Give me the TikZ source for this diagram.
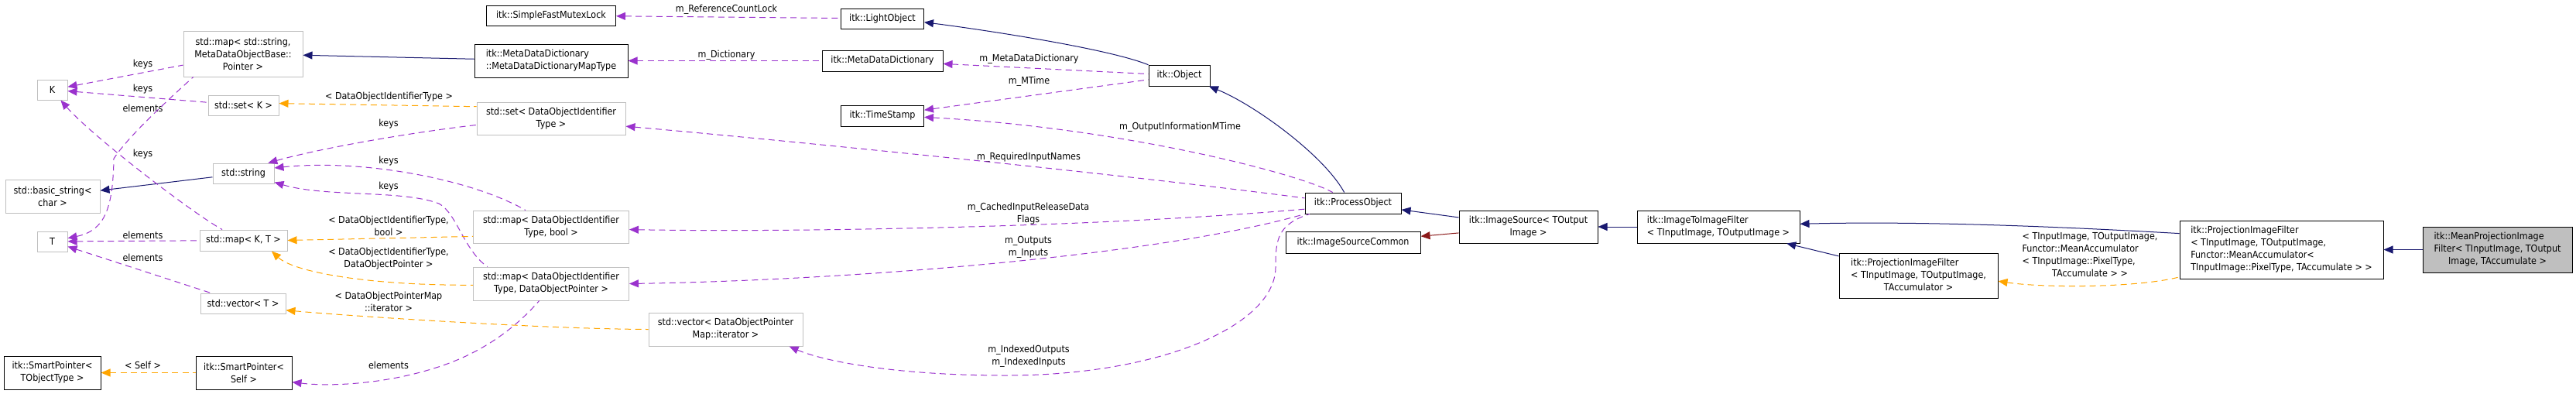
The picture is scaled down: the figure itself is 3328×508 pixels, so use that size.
\documentclass[tikz,border=0pt]{standalone}
\usepackage{fontspec}
\setmainfont{DejaVu Sans}[FakeStretch=0.9]
\usepackage{xcolor}
\usetikzlibrary{arrows.meta}

\definecolor{orchid3}{HTML}{9A32CD}
\definecolor{tmplorange}{HTML}{FFA500}
\definecolor{midnight}{HTML}{191970}
\definecolor{firebrick}{HTML}{8B1A1A}
\definecolor{boxgray}{HTML}{BFBFBF}

\begin{document}
\begin{tikzpicture}[
  x=0.75pt, y=-0.75pt,
  every node/.style={font=\fontsize{9.3}{12}\selectfont},
  cls/.style={rectangle, draw=black, line width=0.75pt, fill=white,
              inner sep=0pt, align=center},
  ext/.style={cls, draw=boxgray},
  mainbox/.style={cls, fill=boxgray},
  lbl/.style={inner sep=0pt, align=center},
  link/.style={line width=0.75pt, {Triangle[length=9pt,width=7.5pt]}-},
  member/.style={link, draw=orchid3, dash pattern=on 6pt off 4pt},
  tmpl/.style={link, draw=tmplorange, dash pattern=on 6pt off 4pt},
  inherit/.style={link, draw=midnight},
  prot/.style={link, draw=firebrick},
]
  \useasboundingbox (0,0) rectangle (3328,508);

  % left column: std containers and template parameters
  \node[ext, minimum width=115.5pt, minimum height=44.25pt] (mapstr) at (314,69.5) {std::map< std::string,\\ MetaDataObjectBase::\\ Pointer >};
  \node[ext, minimum width=29.25pt, minimum height=19.5pt] (K) at (67.5,116) {K};
  \node[ext, minimum width=68.25pt, minimum height=19.5pt] (setK) at (314.5,136) {std::set< K >};
  \node[ext, minimum width=59.25pt, minimum height=19.5pt] (string) at (314.5,224) {std::string};
  \node[ext, minimum width=91.5pt, minimum height=32.25pt] (basicstr) at (68,253.5) {std::basic\_string<\\ char >};
  \node[ext, minimum width=29.25pt, minimum height=19.5pt] (T) at (67.5,312) {T};
  \node[ext, minimum width=84.75pt, minimum height=20.25pt] (mapKT) at (314.5,310.5) {std::map< K, T >};
  \node[ext, minimum width=82.5pt, minimum height=19.5pt] (vecT) at (314,392) {std::vector< T >};
  \node[cls, minimum width=93.75pt, minimum height=32.25pt] (spTO) at (67.5,481.5) {itk::SmartPointer<\\ TObjectType >};
  \node[cls, minimum width=93pt, minimum height=32.25pt] (spSelf) at (315,481.5) {itk::SmartPointer<\\ Self >};

  \node[cls, minimum width=125.25pt, minimum height=19.5pt] (mutex) at (712,20) {itk::SimpleFastMutexLock};
  \node[cls, minimum width=148.5pt, minimum height=32.25pt, align=left] (maptype) at (712,78.5) {itk::MetaDataDictionary\\ ::MetaDataDictionaryMapType};
  \node[ext, minimum width=144pt, minimum height=31.5pt] (setid) at (712,153) {std::set< DataObjectIdentifier\\ Type >};
  \node[ext, minimum width=150.75pt, minimum height=31.5pt] (mapbool) at (712,293) {std::map< DataObjectIdentifier\\ Type, bool >};
  \node[ext, minimum width=150.75pt, minimum height=32.25pt] (mapdop) at (712,366.5) {std::map< DataObjectIdentifier\\ Type, DataObjectPointer >};
  \node[ext, minimum width=149.25pt, minimum height=32.25pt] (vecit) at (937.5,425.5) {std::vector< DataObjectPointer\\ Map::iterator >};

  % itk classes
  \node[cls, minimum width=80.25pt, minimum height=19.5pt] (light) at (1140,24) {itk::LightObject};
  \node[cls, minimum width=117pt, minimum height=20.25pt] (dict) at (1140,78.5) {itk::MetaDataDictionary};
  \node[cls, minimum width=80.25pt, minimum height=20.25pt] (stamp) at (1140,149.5) {itk::TimeStamp};
  \node[cls, minimum width=59.25pt, minimum height=20.25pt] (object) at (1523.5,97.5) {itk::Object};
  \node[cls, minimum width=93pt, minimum height=20.25pt] (process) at (1748,262.5) {itk::ProcessObject};
  \node[cls, minimum width=130.5pt, minimum height=21pt] (common) at (1748,313) {itk::ImageSourceCommon};
  \node[cls, minimum width=134.25pt, minimum height=31.5pt] (source) at (1974.5,293) {itk::ImageSource< TOutput\\ Image >};
  \node[cls, minimum width=157.5pt, minimum height=31.5pt, align=left] (i2i) at (2220,293) {itk::ImageToImageFilter\\ < TInputImage, TOutputImage >};
  \node[cls, minimum width=153.75pt, minimum height=43.5pt] (projacc) at (2478.5,356) {\begin{tabular}{@{}l@{}}itk::ProjectionImageFilter\\ < TInputImage, TOutputImage,\\ \multicolumn{1}{@{}c@{}}{TAccumulator >}\end{tabular}};
  \node[cls, minimum width=197.25pt, minimum height=56.25pt, align=left] (projmean) at (2947.5,322.5) {itk::ProjectionImageFilter\\ < TInputImage, TOutputImage,\\ Functor::MeanAccumulator<\\ TInputImage::PixelType, TAccumulate > >};
  \node[mainbox, minimum width=144.75pt, minimum height=44.25pt] (meanproj) at (3226.5,322.5) {\begin{tabular}{@{}l@{}}itk::MeanProjectionImage\\ Filter< TInputImage, TOutput\\ \multicolumn{1}{@{}c@{}}{Image, TAccumulate >}\end{tabular}};

  % edge labels
  \node[lbl] (l_mapstr_k) at (184.5,83) {keys};
  \node[lbl] (l_setk_k) at (184.5,115) {keys};
  \node[lbl] (l_mapstr_e) at (184.5,140) {elements};
  \node[lbl] (l_mapkt_k) at (184.5,199) {keys};
  \node[lbl] (l_mapkt_e) at (184.5,304) {elements};
  \node[lbl] (l_vect_e) at (184.5,333) {elements};
  \node[lbl] (l_self) at (184.5,472) {< Self >};
  \node[lbl] (l_setid) at (502.5,125) {< DataObjectIdentifierType >};
  \node[lbl] (l_setid_k) at (502,160) {keys};
  \node[lbl] (l_mapbool_k) at (502,208) {keys};
  \node[lbl] (l_mapdop_k) at (502,241) {keys};
  \node[lbl] (l_mapbool) at (502,291.5) {< DataObjectIdentifierType,\\ bool >};
  \node[lbl] (l_mapdop) at (502,334.5) {< DataObjectIdentifierType,\\ DataObjectPointer >};
  \node[lbl] (l_vecit) at (502,390) {< DataObjectPointerMap\\ ::iterator >};
  \node[lbl] (l_self_e) at (502,472) {elements};
  \node[lbl] (l_refcount) at (938.5,12) {m\_ReferenceCountLock};
  \node[lbl] (l_dict) at (938.5,71) {m\_Dictionary};
  \node[lbl] (l_metadict) at (1329.5,76) {m\_MetaDataDictionary};
  \node[lbl] (l_mtime) at (1329.5,105) {m\_MTime};
  \node[lbl] (l_outinfo) at (1524.5,164) {m\_OutputInformationMTime};
  \node[lbl] (l_reqin) at (1329,203) {m\_RequiredInputNames};
  \node[lbl] (l_cached) at (1328.5,276) {m\_CachedInputReleaseData\\ Flags};
  \node[lbl] (l_inout) at (1328.5,319) {m\_Outputs\\ m\_Inputs};
  \node[lbl] (l_indexed) at (1329,460) {m\_IndexedOutputs\\ m\_IndexedInputs};
  \node[lbl] (l_accum) at (2700,330.5) {\begin{tabular}{@{}l@{}}< TInputImage, TOutputImage,\\ Functor::MeanAccumulator\\ < TInputImage::PixelType,\\ \multicolumn{1}{@{}c@{}}{TAccumulate > >}\end{tabular}};

  % inheritance
  \draw[inherit] (mapstr) -- (maptype);
  \draw[inherit] (basicstr) -- (string);
  \draw[inherit] (light.-5) .. controls (1260,37) and (1430,62) .. (object.161);
  \draw[inherit] (object.-20) .. controls (1620,135) and (1710,200) .. (process.129);
  \draw[inherit] (process) -- (source);
  \draw[prot] (common) -- (source);
  \draw[inherit] (source) -- (i2i);
  \draw[inherit] (i2i) -- (projacc);
  \draw[inherit] (i2i.2) .. controls (2500,285) and (2700,295) .. (projmean.171);
  \draw[inherit] (projmean) -- (meanproj);

  % members
  \draw[member] (K) -- (mapstr);
  \draw[member] (K) -- (setK);
  \draw[member] (T.12) .. controls (135,298) and (146,270) .. (147,205)
    .. controls (166,175) and (226,121) .. (mapstr.205);
  \draw[member] (K.-51) .. controls (118,175) and (248,275) .. (mapKT.153);
  \draw[member] (T) -- (mapKT);
  \draw[member] (T) -- (vecT);
  \draw[member] (string.23) .. controls (420,190) and (540,170) .. (setid.185);
  \draw[member] (string.10) .. controls (470,205) and (610,232) .. (mapbool.147);
  \draw[member] (string.-16) .. controls (420,255) and (520,245) .. (567,263)
    .. controls (590,275) and (600,325) .. (mapdop.165);
  \draw[member] (spSelf.-11) .. controls (430,500) and (500,495) .. (560,476)
    .. controls (620,458) and (665,425) .. (mapdop.235);
  \draw[member] (mutex) -- (light);
  \draw[member] (maptype) -- (dict);
  \draw[member] (dict) -- (object);
  \draw[member] (stamp) -- (object);
  \draw[member] (stamp.-2) .. controls (1450,165) and (1680,225) .. (process.152);
  \draw[member] (setid.-6) .. controls (1000,180) and (1450,225) .. (process.174);
  \draw[member] (mapbool.-2) .. controls (1000,300) and (1400,295) .. (process.187);
  \draw[member] (mapdop.east) .. controls (1100,362) and (1500,330) .. (process.south west);
  \draw[member] (vecit.-15) .. controls (1060,465) and (1150,485) .. (1300,485)
    .. controls (1500,485) and (1648,420) .. (1648,345)
    .. controls (1648,310) and (1650,290) .. (process.194);

  % template instances
  \draw[tmpl] (setK.3) -- (setid.171);
  \draw[tmpl] (mapKT.east) -- (mapbool.187);
  \draw[tmpl] (mapKT.-21) .. controls (380,352) and (480,369) .. (mapdop.181);
  \draw[tmpl] (vecT.-9) .. controls (450,408) and (700,425) .. (vecit.west);
  \draw[tmpl] (spTO) -- (spSelf);
  \draw[tmpl] (projacc.-4) .. controls (2640,372) and (2760,372) .. (projmean.195);
\end{tikzpicture}
\end{document}
